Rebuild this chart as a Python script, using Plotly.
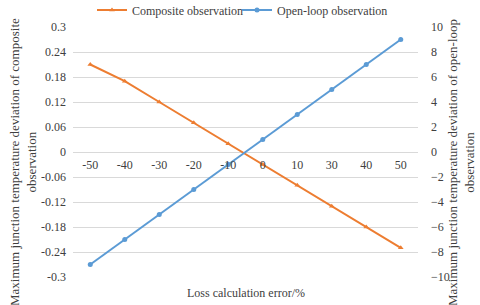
import plotly.graph_objects as go

categories = ["-50", "-40", "-30", "-20", "-10", "0", "10", "30", "40", "50"]
composite = [0.21, 0.17, 0.12, 0.07, 0.02, -0.03, -0.08, -0.13, -0.18, -0.23]
open_loop = [-9, -7, -5, -3, -1, 1, 3, 5, 7, 9]
left_ticks = [0.3, 0.24, 0.18, 0.12, 0.06, 0, -0.06, -0.12, -0.18, -0.24, -0.3]
left_labels = ["0.3", "0.24", "0.18", "0.12", "0.06", "0", "-0.06", "-0.12", "-0.18", "-0.24", "-0.3"]
right_ticks = [10, 8, 6, 4, 2, 0, -2, -4, -6, -8, -10]

FONT = "Liberation Serif, Times New Roman, serif"
TXT = "#404040"
ORANGE = "#ED7D31"
BLUE = "#5B9BD5"

fig = go.Figure()
fig.add_trace(go.Scatter(
    x=categories, y=composite, name="Composite observation",
    mode="lines+markers", line=dict(color=ORANGE, width=2),
    marker=dict(symbol="triangle-up", size=5, color=ORANGE),
    yaxis="y", legend="legend"))
fig.add_trace(go.Scatter(
    x=categories, y=open_loop, name="Open-loop observation",
    mode="lines+markers", line=dict(color=BLUE, width=2),
    marker=dict(symbol="circle", size=5, color=BLUE),
    yaxis="y2", legend="legend2"))

title_font = dict(family=FONT, size=13, color=TXT)
leg_common = dict(orientation="h", y=0.967, yanchor="middle", yref="container",
                  xanchor="left", font=dict(family=FONT, size=12, color=TXT),
                  bgcolor="rgba(0,0,0,0)", borderwidth=0, itemwidth=30)

fig.update_layout(
    width=480, height=305,
    margin=dict(l=73, r=62, t=27, b=28, autoexpand=False),
    paper_bgcolor="white", plot_bgcolor="white",
    font=dict(family=FONT, size=12, color=TXT),
    showlegend=True,
    legend=dict(x=(92 - 73) / 345, **leg_common),
    legend2=dict(x=(237 - 73) / 345, **leg_common),
    xaxis=dict(type="category", range=[-0.5, 9.5], anchor="free", position=0.5,
               showgrid=False, zeroline=False, showline=False, ticks="",
               tickfont=dict(family=FONT, size=12, color=TXT), ticklabelstandoff=4),
    yaxis=dict(range=[-0.3, 0.3], tickvals=left_ticks, ticktext=left_labels,
               showgrid=True, gridcolor="#d9d9d9", gridwidth=1,
               zeroline=True, zerolinecolor="#d9d9d9", zerolinewidth=1,
               showline=False, ticks="", ticklabelstandoff=6),
    yaxis2=dict(range=[-10, 10], tickvals=right_ticks, overlaying="y", side="right",
                showgrid=False, zeroline=False, showline=False, ticks="",
                ticklabelstandoff=12),
    annotations=[
        dict(text="Loss calculation error/%", x=0.5, xref="paper",
             y=-0.064, yref="paper", yanchor="middle", showarrow=False,
             font=dict(family=FONT, size=12, color=TXT)),
        dict(text="Maximum junction temperature deviation of composite<br>observation",
             x=-0.145, xref="paper", y=0.46, yref="paper", xanchor="center", yanchor="middle",
             textangle=-90, showarrow=False, font=title_font),
        dict(text="Maximum junction temperature deviation of open-loop<br>observation",
             x=1.1246, xref="paper", y=0.46, yref="paper", xanchor="center", yanchor="middle",
             textangle=-90, showarrow=False, font=title_font),
    ],
)

fig.write_html("out.html", config={"displayModeBar": False},
               post_script="document.body.style.margin='0';document.body.style.overflow='hidden';")
